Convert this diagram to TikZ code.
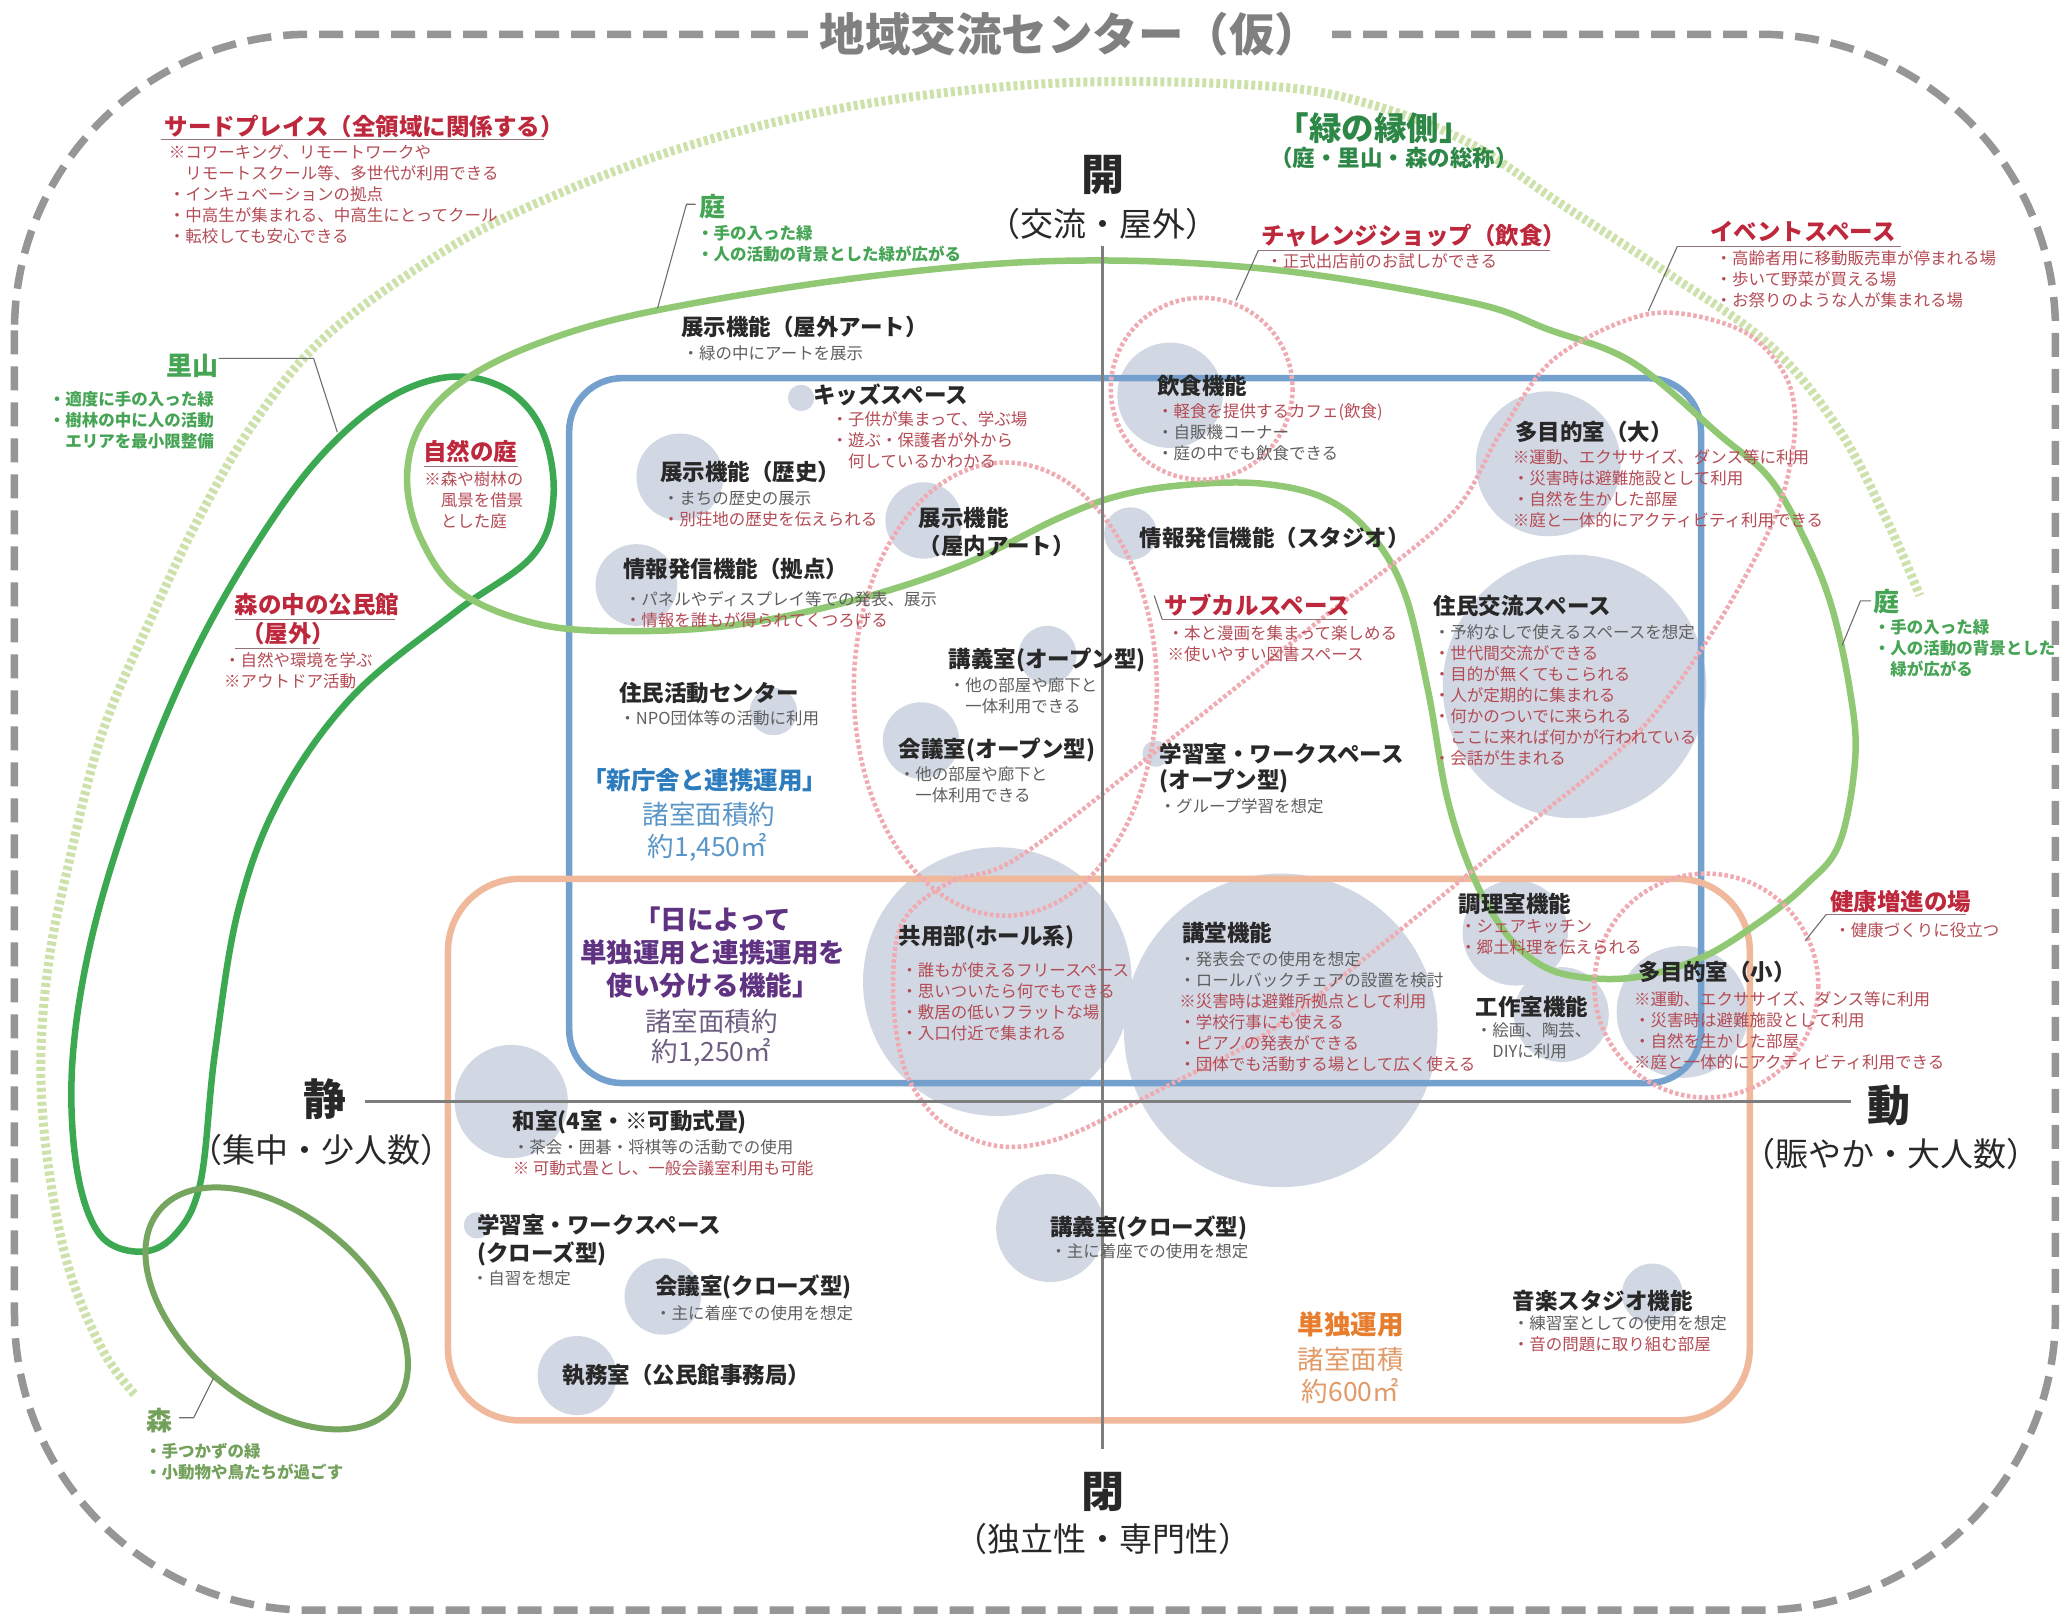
\documentclass[tikz,border=0pt]{standalone}
\usepackage{fontspec}
\setmainfont{Noto Sans CJK JP}
\definecolor{outergray}{RGB}{150,150,150}
\definecolor{titlegray}{RGB}{128,128,128}
\definecolor{axisgray}{RGB}{125,125,125}
\definecolor{bubblec}{RGB}{209,216,227}
\definecolor{bluebox}{RGB}{115,160,205}
\definecolor{orangebox}{RGB}{240,185,155}
\definecolor{dkgreen}{RGB}{60,168,82}
\definecolor{ltgreen}{RGB}{145,200,115}
\definecolor{morigreen}{RGB}{118,165,95}
\definecolor{dotgreen}{RGB}{205,225,170}
\definecolor{pinkdot}{RGB}{240,170,178}
\definecolor{hdark}{RGB}{40,40,40}
\definecolor{lred}{RGB}{190,40,60}
\definecolor{sred}{RGB}{180,75,85}
\definecolor{sgray}{RGB}{95,95,95}
\definecolor{gtext}{RGB}{70,165,85}
\definecolor{gdark}{RGB}{45,135,70}
\definecolor{motext}{RGB}{115,160,90}
\definecolor{bltext}{RGB}{45,125,190}
\definecolor{bltext2}{RGB}{90,150,200}
\definecolor{pptext}{RGB}{95,50,130}
\definecolor{pptext2}{RGB}{110,95,130}
\definecolor{ortext}{RGB}{232,125,45}
\definecolor{ortext2}{RGB}{225,155,105}
\definecolor{ulgray}{RGB}{150,115,120}
\definecolor{leadgray}{RGB}{110,110,110}
\newcommand{\fTitle}{\bfseries\fontsize{45.5}{52}\selectfont}
\newcommand{\fAxBig}{\bfseries\fontsize{43}{48}\selectfont}
\newcommand{\fAxSub}{\fontsize{33}{36}\selectfont}
\newcommand{\fHd}{\bfseries\fontsize{22.5}{27}\selectfont}
\newcommand{\fSb}{\fontsize{16.5}{21}\selectfont}
\newcommand{\fLbl}{\bfseries\fontsize{23.5}{28}\selectfont}
\newcommand{\fGrn}{\bfseries\fontsize{26}{30}\selectfont}
\newcommand{\fGsb}{\bfseries\fontsize{16.5}{21}\selectfont}
\newcommand{\fEng}{\bfseries\fontsize{32.5}{36}\selectfont}
\newcommand{\fEngS}{\bfseries\fontsize{22.5}{26}\selectfont}
\newcommand{\fAreaH}{\bfseries\fontsize{24.5}{33}\selectfont}
\newcommand{\fAreaP}{\bfseries\fontsize{26.5}{33}\selectfont}
\newcommand{\fAreaB}{\fontsize{26.5}{33}\selectfont}
\tikzset{
  hd/.style={font=\fHd, text=hdark, anchor=west, inner sep=0pt},
  sb/.style={font=\fSb, text=sgray, anchor=north west, align=left, inner sep=0pt},
  lbl/.style={font=\fLbl, text=lred, anchor=west, inner sep=0pt},
  grn/.style={font=\fGrn, text=gtext, inner sep=0pt},
  gsb/.style={font=\fGsb, text=gtext, anchor=north west, align=left, inner sep=0pt},
  ul/.style={draw=ulgray, line width=1.4pt},
  lead/.style={draw=leadgray, line width=1.1pt},
  bub/.style={fill=bubblec, draw=none},
  outerline/.style={draw=outergray, line width=7.5pt, dash pattern=on 24pt off 12pt},
  axisline/.style={draw=axisgray, line width=3pt},
  boxblue/.style={draw=bluebox, line width=6.5pt, rounded corners=53pt},
  boxorange/.style={draw=orangebox, line width=6.5pt, rounded corners=72pt},
  dkg/.style={draw=dkgreen, line width=6.5pt},
  ltg/.style={draw=ltgreen, line width=6.5pt},
  morig/.style={draw=morigreen, line width=6pt},
  dotg/.style={draw=dotgreen, line width=9pt, dash pattern=on 4pt off 3pt},
  pinkd/.style={draw=pinkdot, line width=4.5pt, dash pattern=on 3.5pt off 2.5pt},
}
\begin{document}
\begin{tikzpicture}[x=1.3176pt,y=-1.3176pt]
\useasboundingbox (0,0) rectangle (1568,1228);
\fill[white] (0,0) rectangle (1568,1228);

% outer frame
\draw[outerline, rounded corners=296pt] (11,26) rectangle (1560,1222);
\node[fill=white, inner xsep=12pt, inner ysep=2pt, font=\fTitle, text=titlegray] (title) at (812,26) {地域交流センター（仮）};

% bubbles
\fill[bub] (608,302) circle[radius=10];
\fill[bub] (516,362) circle[radius=33];
\fill[bub] (701,395) circle[radius=29];
\fill[bub] (483,444) circle[radius=31];
\fill[bub] (587,540) circle[radius=18];
\fill[bub] (795,497) circle[radius=22];
\fill[bub] (699,562) circle[radius=29];
\fill[bub] (888,300) circle[radius=40];
\fill[bub] (858,405) circle[radius=20];
\fill[bub] (1175,352) circle[radius=55];
\fill[bub] (1195,521) circle[radius=100];
\fill[bub] (877,572) circle[radius=10];
\fill[bub] (757,745) circle[radius=102];
\fill[bub] (972,782) circle[radius=119];
\fill[bub] (1150,708) circle[radius=40];
\fill[bub] (1185,770) circle[radius=36];
\fill[bub] (1277,768) circle[radius=50];
\fill[bub] (388,836) circle[radius=43];
\fill[bub] (362,930) circle[radius=10];
\fill[bub] (503,984) circle[radius=29];
\fill[bub] (438,1044) circle[radius=30];
\fill[bub] (797,932) circle[radius=41];
\fill[bub] (1254,982) circle[radius=23];

% boxes
\draw[boxblue] (432,287) rectangle (1291,822);
\draw[boxorange] (340,667) rectangle (1328,1078);

% green dotted (engawa)
\draw[dotg] plot[smooth, tension=0.6] coordinates {(102,1058) (78,1025) (52,962) (36,880) (31,805) (37,730) (52,656) (78,555) (118,462) (150,395) (190,325) (240,262) (310,208) (390,162) (515,113) (650,80) (804,63) (957,65) (1036,78) (1114,108) (1185,155) (1265,207) (1343,262) (1395,325) (1432,395) (1457,452)};

% dark green loop (satoyama)
\draw[dkg] plot[smooth cycle, tension=0.6] coordinates {(420,378) (404,422) (345,465) (268,528) (213,605) (181,690) (163,800) (152,898) (132,938) (105,950) (75,936) (58,885) (55,805) (70,710) (102,605) (143,505) (190,420) (240,350) (292,304) (342,286) (385,296) (412,328)};

% light green loop (niwa)
\draw[ltg] plot[smooth cycle, tension=0.6] coordinates {(496,236) (650,211) (804,198) (960,204) (1114,229) (1175,250) (1239,275) (1305,330) (1343,363) (1370,410) (1390,460) (1404,524) (1408,576) (1396,640) (1370,672) (1335,700) (1291,727) (1239,742) (1190,740) (1160,726) (1137,700) (1116,660) (1098,604) (1084,525) (1066,450) (1040,405) (1005,378) (957,367) (900,368) (850,376) (804,393) (732,428) (650,455) (560,474) (480,479) (410,474) (350,450) (320,410) (309,366) (318,325) (350,290) (410,260)};

% mori ellipse
\draw[morig, rotate around={-40:(210,993)}] (210,993) ellipse[x radius=116, y radius=70];

% pink dotted areas
\draw[pinkd] (912,295) circle[radius=69];
\draw[pinkd] (1295,748) circle[radius=85];
\draw[pinkd] (763,523) ellipse[x radius=115, y radius=172];
\draw[pinkd] plot[smooth cycle, tension=0.55] coordinates {(1253,238) (1320,250) (1355,285) (1362,330) (1346,395) (1297,484) (1242,557) (1161,625) (1045,720) (960,785) (890,822) (810,862) (759,870) (715,852) (688,815) (678,760) (684,702) (720,670) (774,650) (900,552) (1000,472) (1100,392) (1138,330) (1180,272)};

% axes
\coordinate (axT) at (837,187);
\coordinate (axB) at (837,1100);
\coordinate (axL) at (277,836);
\coordinate (axR) at (1405,836);
\draw[axisline] (axT) -- (axB);
\draw[axisline] (axL) -- (axR);
\node[font=\fAxBig, text=hdark] (kai) at (837,133) {開};
\node[font=\fAxSub, text=hdark] (kaiS) at (837,170) {（交流・屋外）};
\node[font=\fAxBig, text=hdark] (hei) at (837,1132) {閉};
\node[font=\fAxSub, text=hdark] (heiS) at (837,1168) {（独立性・専門性）};
\node[font=\fAxBig, text=hdark] (sei) at (247,834) {静};
\node[font=\fAxSub, text=hdark] (seiS) at (244,873) {（集中・少人数）};
\node[font=\fAxBig, text=hdark] (dou) at (1434,839) {動};
\node[font=\fAxSub, text=hdark] (douS) at (1435,876) {（賑やか・大人数）};

% third place
\node[lbl] (tp) at (125,96) {サードプレイス（全領域に関係する）};
\draw[ul] (122,106) -- (413,106);
\node[sb, text=sred] (tps) at (128,110) {※コワーキング、リモートワークや\\\hspace*{1em}リモートスクール等、多世代が利用できる\\・インキュベーションの拠点\\・中高生が集まれる、中高生にとってクール\\・転校しても安心できる};

% satoyama
\node[grn] (satoyama) at (146,278) {里山};
\coordinate (satoA) at (166,272);
\coordinate (satoB) at (238,272);
\coordinate (satoC) at (256,328);
\draw[lead] (satoA) -- (satoB) -- (satoC);
\node[gsb] (satoyamaS) at (37,297) {・適度に手の入った緑\\・樹林の中に人の活動\\\hspace*{1em}エリアを最小限整備};

% shizen no niwa
\node[lbl, anchor=center] (shizen) at (357,343) {自然の庭};
\draw[ul] (322,354) -- (393,354);
\node[sb, text=sred] (shizenS) at (322,358) {※森や樹林の\\\hspace*{1em}風景を借景\\\hspace*{1em}とした庭};

% mori no naka no kouminkan
\node[lbl] (komin) at (178,459) {森の中の公民館};
\draw[ul] (178,470) -- (300,470);
\node[lbl] (okugai) at (183,481) {（屋外）};
\draw[ul] (178,492) -- (243,492);
\node[sb, text=sred] (kominS) at (170,495) {・自然や環境を学ぶ\\※アウトドア活動};

% niwa top
\node[grn] (niwa1) at (541,157) {庭};
\coordinate (n1A) at (528,155);
\coordinate (n1B) at (521,155);
\coordinate (n1C) at (499,234);
\draw[lead] (n1A) -- (n1B) -- (n1C);
\node[gsb] (niwa1S) at (529,171) {・手の入った緑\\・人の活動の背景とした緑が広がる};

% engawa
\node[font=\fEng, text=gdark] (engawa) at (1043,97) {「緑の縁側」};
\node[font=\fEngS, text=gdark] (engawaS) at (1058,120) {（庭・里山・森の総称）};

% challenge shop
\node[lbl] (chal) at (957,179) {チャレンジショップ（飲食）};
\draw[ul] (955,190) -- (1176,190);
\coordinate (chalL) at (938,228);
\draw[lead] (955,190) -- (chalL);
\node[sb, text=sred] (chalS) at (961,192) {・正式出店前のお試しができる};

% event space
\node[lbl] (event) at (1298,176) {イベントスペース};
\draw[ul] (1273,187) -- (1443,187);
\coordinate (eventL) at (1251,236);
\draw[lead] (1273,187) -- (eventL);
\node[sb, text=sred] (eventS) at (1302,190) {・高齢者用に移動販売車が停まれる場\\・歩いて野菜が買える場\\・お祭りのような人が集まれる場};

% niwa right
\node[grn] (niwa2) at (1432,457) {庭};
\coordinate (n2A) at (1420,456);
\coordinate (n2B) at (1412,456);
\coordinate (n2C) at (1398,490);
\draw[lead] (n2A) -- (n2B) -- (n2C);
\node[gsb] (niwa2S) at (1422,470) {・手の入った緑\\・人の活動の背景とした\\\hspace*{1em}緑が広がる};

% subculture
\node[lbl] (subcul) at (884,459) {サブカルスペース};
\draw[ul] (882,470) -- (1022,470);
\coordinate (subL) at (876,452);
\draw[lead] (882,470) -- (subL);
\node[sb, text=sred] (subculS) at (886,475) {・本と漫画を集まって楽しめる\\※使いやすい図書スペース};

% health
\node[lbl] (health) at (1389,684) {健康増進の場};
\draw[ul] (1386,694) -- (1492,694);
\coordinate (healthL) at (1370,714);
\draw[lead] (1386,694) -- (healthL);
\node[sb, text=sred] (healthS) at (1392,700) {・健康づくりに役立つ};

% mori
\node[grn, text=motext] (mori) at (121,1078) {森};
\coordinate (moA) at (136,1076);
\coordinate (moB) at (147,1076);
\coordinate (moC) at (162,1046);
\draw[lead] (moA) -- (moB) -- (moC);
\node[gsb, text=motext] (moriS) at (110,1095) {・手つかずの緑\\・小動物や鳥たちが過ごす};

% function labels
\node[hd] (h1) at (517,248) {展示機能（屋外アート）};
\node[sb] (s1) at (518,262) {・緑の中にアートを展示};
\node[hd] (h2) at (617,300) {キッズスペース};
\node[sb, text=sred] (s2) at (631,312) {・子供が集まって、学ぶ場\\・遊ぶ・保護者が外から\\\hspace*{1em}何しているかわかる};
\node[hd] (h3) at (501,358) {展示機能（歴史）};
\node[sb] (s3) at (503,372) {・まちの歴史の展示\\\textcolor{sred}{・別荘地の歴史を伝えられる}};
\node[hd] (h4) at (697,393) {展示機能};
\node[hd] (h4b) at (697,414) {（屋内アート）};
\node[hd] (h5) at (473,432) {情報発信機能（拠点）};
\node[sb] (s5) at (474,449) {・パネルやディスプレイ等での発表、展示\\\textcolor{sred}{・情報を誰もが得られてくつろげる}};
\node[hd] (h6) at (470,526) {住民活動センター};
\node[sb] (s6) at (470,539) {・NPO団体等の活動に利用};
\node[hd] (h7) at (720,501) {講義室(オープン型)};
\node[sb] (s7) at (720,514) {・他の部屋や廊下と\\\hspace*{1em}一体利用できる};
\node[hd] (h8) at (682,569) {会議室(オープン型)};
\node[sb] (s8) at (682,582) {・他の部屋や廊下と\\\hspace*{1em}一体利用できる};
\node[hd] (h9) at (878,293) {飲食機能};
\node[sb] (s9) at (878,306) {\textcolor{sred}{・軽食を提供するカフェ(飲食)}\\・自販機コーナー\\・庭の中でも飲食できる};
\node[hd] (h10) at (865,408) {情報発信機能（スタジオ）};
\node[hd] (h11) at (1150,328) {多目的室（大）};
\node[sb, text=sred] (s11) at (1148,341) {※運動、エクササイズ、ダンス等に利用\\・災害時は避難施設として利用\\・自然を生かした部屋\\※庭と一体的にアクティビティ利用できる};
\node[hd] (h12) at (1088,460) {住民交流スペース};
\node[sb] (s12) at (1088,474) {・予約なしで使えるスペースを想定\\\textcolor{sred}{・世代間交流ができる}\\\textcolor{sred}{・目的が無くてもこられる}\\\textcolor{sred}{・人が定期的に集まれる}\\\textcolor{sred}{・何かのついでに来られる}\\\textcolor{sred}{\hspace*{1em}ここに来れば何かが行われている}\\\textcolor{sred}{・会話が生まれる}};
\node[hd] (h13) at (880,572) {学習室・ワークスペース};
\node[hd] (h13b) at (880,593) {(オープン型)};
\node[sb] (s13) at (880,606) {・グループ学習を想定};
\node[hd] (h14) at (682,711) {共用部(ホール系)};
\node[sb, text=sred] (s14) at (684,730) {・誰もが使えるフリースペース\\・思いついたら何でもできる\\・敷居の低いフラットな場\\・入口付近で集まれる};
\node[hd] (h15) at (897,708) {講堂機能};
\node[sb] (s15) at (895,722) {・発表会での使用を想定\\・ロールバックチェアの設置を検討\\\textcolor{sred}{※災害時は避難所拠点として利用}\\\textcolor{sred}{・学校行事にも使える}\\\textcolor{sred}{・ピアノの発表ができる}\\\textcolor{sred}{・団体でも活動する場として広く使える}};
\node[hd] (h16) at (1107,686) {調理室機能};
\node[sb, text=sred] (s16) at (1108,698) {・シェアキッチン\\・郷土料理を伝えられる};
\node[hd] (h17) at (1120,764) {工作室機能};
\node[sb] (s17) at (1120,776) {・絵画、陶芸、\\\hspace*{1em}DIYに利用};
\node[hd] (h18) at (1243,738) {多目的室（小）};
\node[sb, text=sred] (s18) at (1240,752) {※運動、エクササイズ、ダンス等に利用\\・災害時は避難施設として利用\\・自然を生かした部屋\\※庭と一体的にアクティビティ利用できる};
\node[hd] (h19) at (389,852) {和室(4室・※可動式畳)};
\node[sb] (s19) at (389,865) {・茶会・囲碁・将棋等の活動での使用\\\textcolor{sred}{※ 可動式畳とし、一般会議室利用も可能}};
\node[hd] (h20) at (362,930) {学習室・ワークスペース};
\node[hd] (h20b) at (362,952) {(クローズ型)};
\node[sb] (s20) at (358,964) {・自習を想定};
\node[hd] (h21) at (497,977) {会議室(クローズ型)};
\node[sb] (s21) at (497,991) {・主に着座での使用を想定};
\node[hd] (h22) at (427,1044) {執務室（公民館事務局）};
\node[hd] (h23) at (797,932) {講義室(クローズ型)};
\node[sb] (s23) at (797,944) {・主に着座での使用を想定};
\node[hd] (h24) at (1148,987) {音楽スタジオ機能};
\node[sb] (s24) at (1148,998) {・練習室としての使用を想定\\\textcolor{sred}{・音の問題に取り組む部屋}};

% area texts
\node[font=\fAreaH, text=bltext] (a1) at (535,592) {「新庁舎と連携運用」};
\node[font=\fAreaB, text=bltext2] (a1b) at (538,618) {諸室面積約};
\node[font=\fAreaB, text=bltext2] (a1c) at (537,643) {約1,450㎡};
\node[font=\fAreaP, text=pptext, align=center] (a2) at (541,723) {「日によって\\単独運用と連携運用を\\使い分ける機能」};
\node[font=\fAreaB, text=pptext2] (a2b) at (540,775) {諸室面積約};
\node[font=\fAreaB, text=pptext2] (a2c) at (540,799) {約1,250㎡};
\node[font=\fAreaP, text=ortext] (a3) at (1025,1005) {単独運用};
\node[font=\fAreaB, text=ortext2] (a3b) at (1025,1032) {諸室面積};
\node[font=\fAreaB, text=ortext2] (a3c) at (1025,1056) {約600㎡};
\end{tikzpicture}
\end{document}
